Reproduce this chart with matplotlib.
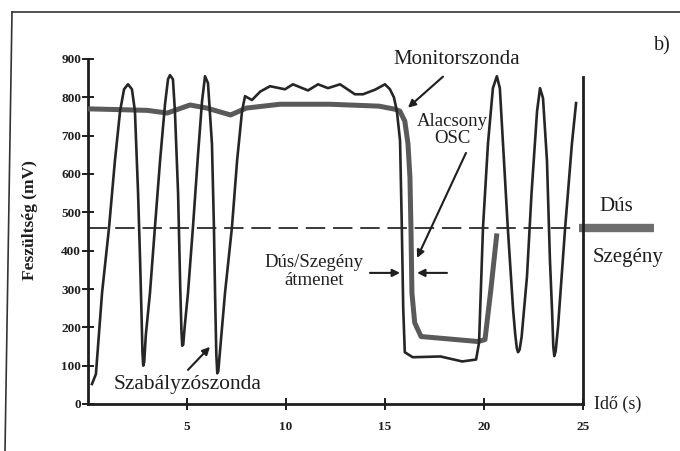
#!/usr/bin/env python
"""
Lambda-szonda jelek: szabályzószonda és monitorszonda feszültsége az idő függvényében.
"""

import matplotlib
matplotlib.use('Agg')
import matplotlib.pyplot as plt
from matplotlib.lines import Line2D

plt.rcParams['font.family'] = ['Liberation Serif', 'DejaVu Serif']

# Szabályzószonda (vékony vonal) -- leolvasott pontok
regul_t = [0.20, 0.40, 0.71, 1.06, 1.36, 1.62, 1.82, 2.02, 2.22, 2.37, 2.53, 2.63,
           2.71, 2.75, 2.79, 2.84, 2.92, 3.13, 3.38, 3.64, 3.89, 4.04, 4.14, 4.29,
           4.39, 4.55, 4.66, 4.72, 4.76, 4.81, 4.88, 5.05, 5.30, 5.56, 5.76, 5.91,
           6.06, 6.26, 6.36, 6.42, 6.48, 6.53, 6.58, 6.67, 6.92, 7.27, 7.53, 7.78,
           7.93, 8.28, 8.70, 9.19, 9.95, 10.35, 11.11, 11.62, 12.12, 12.73, 13.48,
           13.89, 14.50, 15.00, 15.25, 15.45, 15.60, 15.76, 15.85, 15.92, 16.00,
           16.40, 17.80, 18.90, 19.60, 19.75, 19.95, 20.20, 20.45, 20.65, 20.80,
           20.96, 21.20, 21.47, 21.58, 21.66, 21.72, 21.80, 21.90, 22.17, 22.40,
           22.68, 22.83, 22.98, 23.18, 23.33, 23.44, 23.50, 23.55, 23.62, 23.74,
           24.10, 24.44, 24.65]
regul_v = [52, 78, 290, 459, 635, 764, 821, 834, 821, 764, 549, 376,
           220, 135, 100, 110, 180, 290, 461, 635, 782, 847, 858, 847,
           764, 549, 300, 190, 152, 155, 200, 290, 461, 653, 790, 855,
           837, 679, 461, 280, 130, 80, 85, 140, 290, 461, 635, 764,
           803, 793, 815, 829, 821, 834, 818, 834, 824, 834, 808,
           808, 820, 834, 821, 800, 764, 687, 460, 250, 135,
           122, 124, 111, 116, 160, 461, 679, 824, 855, 824,
           679, 461, 246, 180, 145, 135, 142, 175, 332, 549,
           764, 824, 798, 635, 376, 240, 150, 125, 138, 202,
           461, 679, 785]

# Monitorszonda (vastag vonal)
monitor_t = [0.0, 1.5, 3.0, 4.0, 5.15, 6.0, 7.2, 8.0, 9.7, 12.2, 14.7, 15.5,
             15.75, 16.0, 16.16, 16.26, 16.31, 16.36, 16.5, 16.82, 19.7, 20.05,
             20.35, 20.65]
monitor_v = [770, 768, 766, 759, 780, 772, 754, 772, 782, 782, 777, 769,
             764, 738, 679, 591, 461, 290, 212, 176, 163, 168, 300, 445]

threshold = 460          # Dús / Szegény határ (mV)
xticks = [5, 10, 15, 20, 25]
yticks = [0, 100, 200, 300, 400, 500, 600, 700, 800, 900]

INK = '#1e1e1e'
THIN = '#262626'
THICK = '#5a5a5a'


def main():
    fig = plt.figure(figsize=(6.8, 4.51), dpi=100)
    ax = fig.add_axes([88 / 680, 47 / 451, 495 / 680, 345 / 451])

    ax.plot(monitor_t, monitor_v, '-', color=THICK, lw=3.6,
            solid_capstyle='butt', solid_joinstyle='round', zorder=3)
    ax.plot(regul_t, regul_v, '-', color=THIN, lw=1.9,
            solid_joinstyle='round', zorder=4, clip_on=False)

    # küszöb (szaggatott)
    ax.plot([0, 24.6], [threshold, threshold], color='#3a3a3a', lw=1.4,
            dashes=(10, 4), zorder=2)
    # jobb oldali függőleges vonal
    ax.plot([25, 25], [0, 852], color=INK, lw=2.0, clip_on=False, zorder=5)
    # szürke sáv a jobb szélen
    ax.plot([24.8, 28.6], [threshold, threshold], color='#6e6e6e', lw=6,
            solid_capstyle='butt', clip_on=False)

    ax.set_xlim(0, 25)
    ax.set_ylim(0, 900)
    for side in ['top', 'right']:
        ax.spines[side].set_visible(False)
    for side in ['left', 'bottom']:
        ax.spines[side].set_linewidth(2.0)
        ax.spines[side].set_color(INK)

    ax.set_xticks(xticks)
    ax.set_yticks(yticks)
    ax.tick_params(direction='inout', length=8, width=1.4, color=INK,
                   labelsize=9.5, labelcolor=INK)
    ax.tick_params(axis='y', pad=1)
    ax.tick_params(axis='x', pad=8)
    for lab in ax.get_xticklabels() + ax.get_yticklabels():
        lab.set_fontweight('bold')

    ax.set_ylabel('Feszültség (mV)', fontsize=12.5, fontweight='bold', color=INK)
    ax.yaxis.set_label_coords(-0.101, 0.533)

    # feliratok
    ax.text(25.55, 0, 'Idő (s)', fontsize=13, color=INK, va='center', ha='left')
    ax.text(18.6, 898, 'Monitorszonda', fontsize=15, color=INK,
            ha='center', va='center')
    ax.text(18.4, 715, 'Alacsony\nOSC', fontsize=13.5, color=INK,
            ha='center', va='center', linespacing=1.0)
    ax.text(11.4, 345, 'Dús/Szegény\nátmenet', fontsize=13.5, color=INK,
            ha='center', va='center', linespacing=1.05)
    ax.text(5.05, 50, 'Szabályzószonda', fontsize=15.5, color=INK,
            ha='center', va='center')
    ax.text(26.7, 515, 'Dús', fontsize=15, color=INK, ha='center', va='center')
    ax.text(27.3, 382, 'Szegény', fontsize=15, color=INK, ha='center', va='center')
    ax.text(29.0, 935, 'b)', fontsize=14.5, color=INK, ha='center', va='center')

    arrow = dict(arrowstyle='-|>', color=INK, lw=1.5, mutation_scale=11,
                 shrinkA=0, shrinkB=0)
    ax.annotate('', xy=(16.16, 773), xytext=(17.93, 854), arrowprops=arrow,
                annotation_clip=False)
    ax.annotate('', xy=(16.62, 381), xytext=(19.09, 655), arrowprops=arrow)
    ax.annotate('', xy=(15.76, 342), xytext=(14.24, 342), arrowprops=arrow)
    ax.annotate('', xy=(16.62, 342), xytext=(18.13, 342), arrowprops=arrow)
    ax.annotate('', xy=(6.16, 149), xytext=(5.05, 89), arrowprops=arrow)

    # a beszkennelt lap kerete
    fig.add_artist(Line2D([12 / 680, 5 / 680], [1 - 12 / 451, 0.0],
                          transform=fig.transFigure, color='#333333', lw=1.2))
    fig.add_artist(Line2D([12 / 680, 1.0], [1 - 12 / 451, 1 - 12 / 451],
                          transform=fig.transFigure, color='#333333', lw=1.2))

    fig.savefig('out.png', dpi=100, facecolor='white')
    plt.close(fig)


if __name__ == '__main__':
    main()
